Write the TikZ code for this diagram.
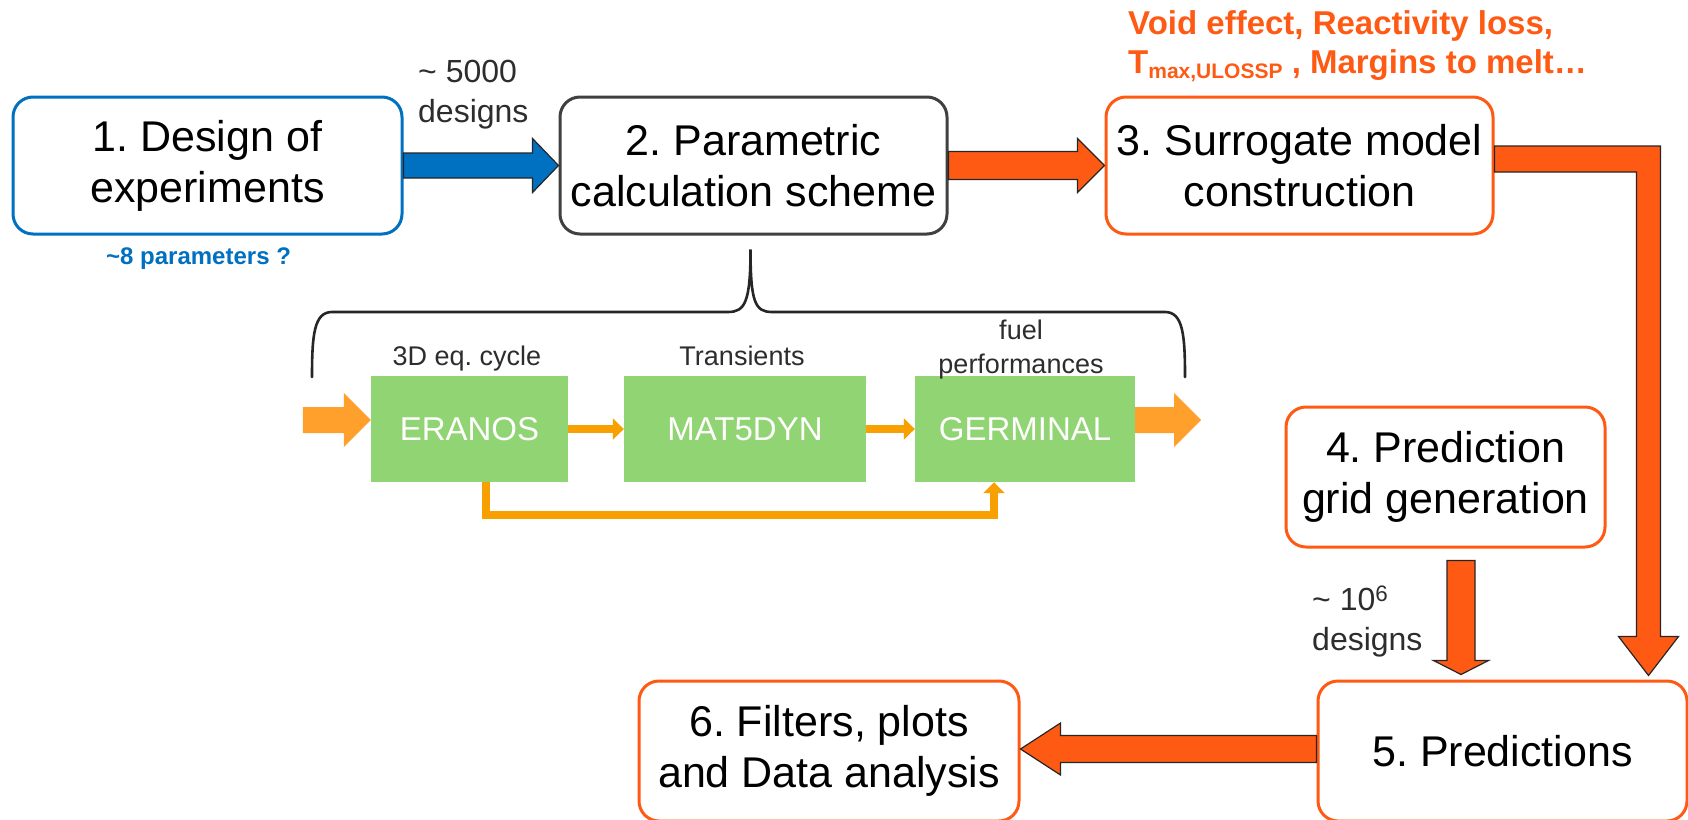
\documentclass[tikz,border=0pt]{standalone}
\usepackage{fontspec}
\setmainfont{Liberation Sans}
\usetikzlibrary{calc,arrows.meta}
\definecolor{dblue}{RGB}{0,112,192}
\definecolor{dgray}{RGB}{64,64,64}
\definecolor{txtgray}{RGB}{45,45,45}
\definecolor{orng}{RGB}{255,90,20}
\definecolor{grn}{RGB}{145,212,115}
\definecolor{lorng}{RGB}{255,160,45}
\definecolor{morng}{RGB}{247,160,0}
\newcommand{\setfs}[2]{\fontsize{#1pt}{#2pt}\selectfont}
% fat arrow polygon: #1 style, #2 from, #3 to, #4 shaft half width, #5 head half width, #6 head length
\newcommand{\fatarr}[6]{%
  \coordinate (fah) at ($(#3)!#6!(#2)$);
  \path[#1] ($(#2)!#4!-90:(#3)$) -- ($(fah)!#4!90:(#2)$) -- ($(fah)!#5!90:(#2)$) -- (#3)
     -- ($(fah)!#5!-90:(#2)$) -- ($(fah)!#4!-90:(#2)$) -- ($(#2)!#4!90:(#3)$) -- cycle;
}
\frenchspacing
\begin{document}
\begin{tikzpicture}[x=1pt,y=-1pt,
  mainbox/.style={draw, line width=3pt, rounded corners=20pt, fill=white, align=center,
     font=\setfs{43}{51}, inner sep=0pt, text=black},
  gbox/.style={fill=grn, draw=none, inner sep=0pt, text=white, font=\setfs{33}{40}},
  lbl/.style={inner sep=0pt, text=txtgray, align=center, font=\setfs{27}{34}},
  cntlbl/.style={inner sep=0pt, text=txtgray, align=left, font=\setfs{32}{40}},
  bluearr/.style={fill=dblue, draw=black!85, line width=1.2pt, line join=miter},
  orarr/.style={fill=orng, draw=black!85, line width=1.2pt, line join=miter},
  lorarr/.style={fill=lorng, draw=none},
  midarr/.style={draw=morng, line width=8pt, -{Triangle[width=21pt,length=11pt]}},
  loopline/.style={draw=morng, line width=8pt, -{Triangle[width=21pt,length=11pt]}},
  brace/.style={draw=black!85, line width=2.6pt, line cap=round}
]
\useasboundingbox (0,0) rectangle (1688,819);
\fill[white] (0,0) rectangle (1688,819);

% main boxes
\node[mainbox, draw=dblue, minimum width=389pt, minimum height=137pt] (b1) at (207.5,165.5) {1. Design of\\experiments};
\node[mainbox, draw=dgray, minimum width=387pt, minimum height=137pt] (b2) at (753.5,165.5) {2. Parametric\\calculation scheme};
\node[mainbox, draw=orng, minimum width=387pt, minimum height=137pt] (b3) at (1299.5,165.5) {3. Surrogate model\\construction};
\node[mainbox, draw=orng, minimum width=319pt, minimum height=140pt] (b4) at (1445.5,477) {4. Prediction\\grid generation};
\node[mainbox, draw=orng, minimum width=369pt, minimum height=140pt] (b5) at (1502.5,751) {5. Predictions};
\node[mainbox, draw=orng, minimum width=380pt, minimum height=140pt] (b6) at (829,751) {6. Filters, plots\\and Data analysis};

% labels
\node[inner sep=0pt, text=dblue, font=\bfseries\setfs{24}{28}, anchor=base west] (par) at (106,264) {\textasciitilde8 parameters ?};
\node[cntlbl, anchor=south west] (n5000) at (418,129) {\textasciitilde{} 5000\\designs};
\node[cntlbl, anchor=south west] (n106) at (1312,657) {\textasciitilde{} 10\textsuperscript{6}\\designs};
\node[inner sep=0pt, text=orng, align=left, font=\bfseries\setfs{33}{39}, anchor=north west] (outs) at (1128,10)
  {Void effect, Reactivity loss,\\T\raisebox{-5pt}{\setfs{21}{21}max,ULOSSP} , Margins to melt…};

% arrows between main boxes
\fatarr{bluearr}{b1.east}{b2.west}{12.5pt}{27pt}{26pt}
\fatarr{orarr}{b2.east}{b3.west}{14pt}{27pt}{27pt}
\coordinate (a56s) at ($(b5.west)+(0,-2)$);
\coordinate (a56e) at ($(b6.east)+(0,-2)$);
\fatarr{orarr}{a56s}{a56e}{13.5pt}{26pt}{40pt}
\coordinate (a45s) at ($(b4.south)+(15.5,12)$);
\coordinate (a45e) at ($(a45s |- b5.north)+(0,-5)$);
\fatarr{orarr}{a45s}{a45e}{14pt}{27.5pt}{14pt}
% L-shaped arrow from box 3 to box 5
\coordinate (Ls) at ($(b3.east)+(0,-6.5)$);
\coordinate (Lc) at ($(b5.north east |- Ls)+(-40,0)$);
\coordinate (Lt) at ($(Lc |- b5.north)+(0,-4)$);
\path[orarr] ($(Ls)+(0,-13)$) -- ($(Lc)+(12,-13)$) -- ($(Lt)+(12,-39)$) -- ($(Lt)+(30,-39)$) -- (Lt)
  -- ($(Lt)+(-30,-39)$) -- ($(Lt)+(-12,-39)$) -- ($(Lc)+(-12,13)$) -- ($(Ls)+(0,13)$) -- cycle;

% calculation chain
\node[gbox, minimum width=197pt, minimum height=106pt] (er) at (469.5,429) {ERANOS};
\node[gbox, minimum width=242pt, minimum height=106pt] (ma) at (745,429) {MAT5DYN};
\node[gbox, minimum width=220pt, minimum height=106pt] (ge) at (1025,429) {GERMINAL};
\node[lbl, anchor=base] (l1) at (467,365) {3D eq. cycle};
\node[lbl, anchor=base] (l2) at (742,365) {Transients};
\node[lbl, anchor=south] (l3) at (1021,379) {fuel\\performances};

\coordinate (ins) at ($(er.west)+(-68,-9)$);
\coordinate (ine) at ($(er.west)+(0,-9)$);
\fatarr{lorarr}{ins}{ine}{13pt}{27pt}{27pt}
\coordinate (ots) at ($(ge.east)+(0,-9)$);
\coordinate (ote) at ($(ge.east)+(66,-9)$);
\fatarr{lorarr}{ots}{ote}{13pt}{27pt}{27pt}
\draw[midarr] (er.east) -- (ma.west);
\draw[midarr] (ma.east) -- (ge.west);
\coordinate (lp1) at ($(er.south)+(16.5,0)$);
\coordinate (lp2) at ($(ge.south)+(-31,0)$);
\draw[loopline] (lp1) -- ++(0,33) -| (lp2);

% brace under box 2
\coordinate (bt) at ($(b2.south)+(-3,14)$);
\draw[brace] (312,377) .. controls (312,335) and (314,312) .. (332,312) -- (728,312)
  .. controls (745,312) and (bt |- 0,302) .. (bt)
  .. controls (bt |- 0,302) and (755,312) .. (772,312) -- (1165,312)
  .. controls (1183,312) and (1185,335) .. (1185,377);
\end{tikzpicture}
\end{document}
